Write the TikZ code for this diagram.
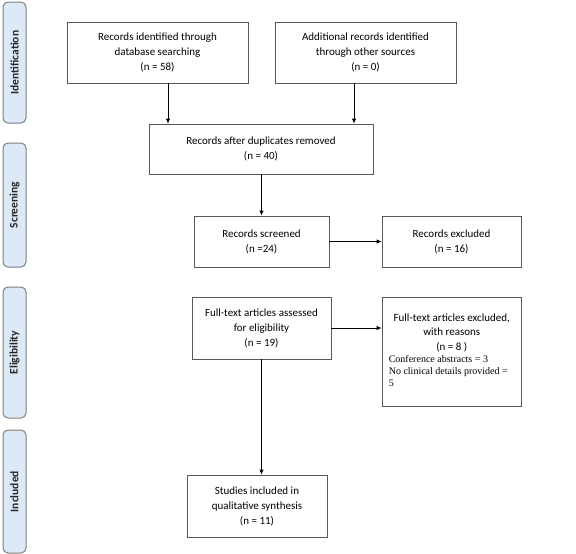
\documentclass[tikz,border=0pt]{standalone}
\usepackage{fontspec}
\setmainfont{Carlito}
\newfontfamily\serifG{Liberation Serif}
\usetikzlibrary{arrows.meta}
\definecolor{phasefill}{HTML}{DCEAF7}
\definecolor{phaseedge}{HTML}{7F7F7F}
\definecolor{boxedge}{HTML}{595959}
\begin{document}
\begin{tikzpicture}[x=1pt,y=-1pt,
  box/.style={draw=boxedge, line width=0.8pt, fill=white, align=center, inner sep=0pt,
    font=\fontsize{11}{15}\selectfont},
  phase/.style={draw=phaseedge, fill=phasefill, rounded corners=5pt, line width=1pt,
    inner sep=0pt, minimum width=23pt},
  phasetxt/.style={rotate=90, font=\bfseries\fontsize{11.5}{12}\selectfont, text=black!85},
  arr/.style={-{Latex[length=5pt,width=4.5pt]}, line width=0.8pt}]
\useasboundingbox (0,0) rectangle (576,554);
% phase panels
\node[phase, minimum height=121pt] (p1) at (14.5,62.5) {};
\node[phasetxt] (p1t) at (p1) {Identification};
\node[phase, minimum height=124pt] (p2) at (14.5,205) {};
\node[phasetxt] (p2t) at (p2) {Screening};
\node[phase, minimum height=131pt] (p3) at (14.5,352.5) {};
\node[phasetxt] (p3t) at (p3) {Eligibility};
\node[phase, minimum height=123pt] (p4) at (14.5,491.5) {};
\node[phasetxt] (p4t) at (p4) {Included};
% boxes
\node[box, minimum width=181pt, minimum height=61pt] (A) at (157.5,52.5)
  {Records identified through\\database searching\\(n = 58)};
\node[box, minimum width=181pt, minimum height=61pt] (B) at (365.5,52.5)
  {Additional records identified\\through other sources\\(n = 0)};
\node[box, minimum width=224pt, minimum height=50pt] (C) at (261,149)
  {Records after duplicates removed\\(n = 40)};
\node[box, minimum width=135pt, minimum height=51pt] (D) at (261.5,241.5)
  {Records screened\\(n =24)};
\node[box, minimum width=139pt, minimum height=51pt] (E) at (451.5,241.5)
  {Records excluded\\(n = 16)};
\node[box, minimum width=139pt, minimum height=62pt] (F) at (261.5,328)
  {Full-text articles assessed\\for eligibility\\(n = 19)};
\node[box, minimum width=139pt, minimum height=109pt] (G) at (451.5,351.5) {};
\node[anchor=north west, inner sep=0pt] (Gt) at ([xshift=7pt,yshift=-17pt]G.north west)
  {\parbox{126pt}{\fontsize{11}{14.5}\selectfont\centering
   Full-text articles excluded,\\with reasons\\(n = 8 )\par
   \vspace{0pt}\raggedright\serifG\fontsize{10}{12}\selectfont
   Conference abstracts = 3\\No clinical details provided =\\5\par}};
\node[box, minimum width=140pt, minimum height=62pt] (H) at (257,506)
  {Studies included in\\qualitative synthesis\\(n = 11)};
% connectors
\draw[arr] ([xshift=10.5pt]A.south) -- ([xshift=10.5pt]A.south |- C.north);
\draw[arr] ([xshift=-11.5pt]B.south) -- ([xshift=-11.5pt]B.south |- C.north);
\draw[arr] ([xshift=0.5pt]C.south) -- ([xshift=0.5pt]C.south |- D.north);
\draw[arr] (D.east) -- (E.west);
\draw[arr] (F.east) -- (F.east -| G.west);
\draw[arr] (F.south) -- (F.south |- H.north);
\end{tikzpicture}
\end{document}
